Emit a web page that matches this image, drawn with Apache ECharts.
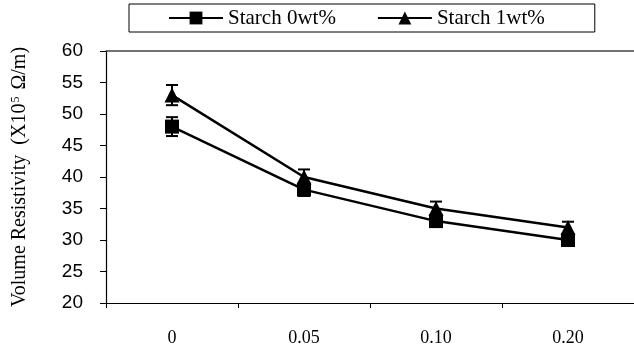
<!DOCTYPE html>
<html>
<head>
<meta charset="utf-8">
<script src="https://cdn.jsdelivr.net/npm/echarts@6/dist/echarts.min.js"></script>
<style>
  html, body { margin: 0; padding: 0; background: #fff; }
  #chart { width: 634px; height: 347px; }
</style>
</head>
<body>
<div id="chart"></div>
<script>
// starch content on x, resistivity (x10^5 ohm/m) on y
const categories = ['0', '0.05', '0.10', '0.20'];
const starch0 = [48, 38, 33, 30];
const starch1 = [53, 40, 35, 32];
// error bar half-heights
const err0 = [1.5, 1, 0.8, 0.6];
const err1 = [1.6, 1.2, 1.1, 0.9];
const yMin = 20, yMax = 60, yStep = 5;

const serif = 'Liberation Serif';
const sans = 'Liberation Sans';

function errData (vals, errs) {
  return vals.map((v, i) => [i, v, errs[i]]);
}

function renderErr (params, api) {
  const x = api.value(0), v = api.value(1), e = api.value(2);
  const hi = api.coord([x, v + e]);
  const lo = api.coord([x, v - e]);
  const cap = 6;
  const style = { stroke: '#000', lineWidth: 2 };
  return {
    type: 'group',
    children: [
      { type: 'line', shape: { x1: hi[0], y1: hi[1], x2: lo[0], y2: lo[1] }, style: style },
      { type: 'line', shape: { x1: hi[0] - cap, y1: hi[1], x2: hi[0] + cap, y2: hi[1] }, style: style },
      { type: 'line', shape: { x1: lo[0] - cap, y1: lo[1], x2: lo[0] + cap, y2: lo[1] }, style: style }
    ]
  };
}

let myChart = echarts.init(document.getElementById('chart'));
let option = {
  backgroundColor: '#fff',
  animation: false,
  legend: {
    data: ['Starch 0wt%', 'Starch 1wt%'],
    left: 129,
    top: 4,
    itemWidth: 54,
    itemHeight: 16,
    itemGap: 41,
    padding: [3, 50, 3, 39],
    borderColor: '#000',
    borderWidth: 1,
    borderRadius: 0,
    textStyle: { fontFamily: serif, fontSize: 21, color: '#000', lineHeight: 22 }
  },
  grid: { left: 106, top: 51, width: 532, height: 252 },
  xAxis: [
    {
      type: 'category',
      data: categories,
      boundaryGap: true,
      axisLine: { lineStyle: { color: '#000', width: 1.2 } },
      axisTick: { show: true, length: 5, inside: false, alignWithLabel: false, lineStyle: { color: '#000' } },
      axisLabel: { fontFamily: serif, fontSize: 18, color: '#000', margin: 26, interval: 0 },
      splitLine: { show: false }
    },
    {
      type: 'category',
      data: categories,
      position: 'top',
      axisLine: { lineStyle: { color: '#444', width: 1.5 } },
      axisTick: { show: false },
      axisLabel: { show: false },
      splitLine: { show: false }
    }
  ],
  yAxis: {
    type: 'value',
    min: yMin,
    max: yMax,
    interval: yStep,
    name: 'Volume Resistivity  (X10{sup|5} Ω/m)',
    nameLocation: 'middle',
    nameGap: 76,
    nameTextStyle: {
      fontFamily: serif,
      fontSize: 20,
      color: '#000',
      rich: {
        sup: { fontFamily: serif, fontSize: 12, color: '#000', verticalAlign: 'top', padding: [0, 2, 8, 1] }
      }
    },
    axisLine: { show: true, lineStyle: { color: '#000', width: 1.2 } },
    axisTick: { show: true, length: 6, lineStyle: { color: '#000' } },
    axisLabel: { fontFamily: sans, fontSize: 19, color: '#000', margin: 23 },
    splitLine: { show: false }
  },
  series: [
    {
      name: 'Starch 0wt%',
      type: 'line',
      data: starch0,
      symbol: 'rect',
      symbolSize: 14,
      lineStyle: { color: '#000', width: 2.5 },
      itemStyle: { color: '#000' },
      z: 3
    },
    {
      name: 'Starch 1wt%',
      type: 'line',
      data: starch1,
      symbol: 'triangle',
      symbolSize: 15,
      lineStyle: { color: '#000', width: 2.5 },
      itemStyle: { color: '#000' },
      z: 3
    },
    {
      name: 'err0',
      type: 'custom',
      renderItem: renderErr,
      data: errData(starch0, err0),
      encode: { x: 0, y: 1 },
      z: 2
    },
    {
      name: 'err1',
      type: 'custom',
      renderItem: renderErr,
      data: errData(starch1, err1),
      encode: { x: 0, y: 1 },
      z: 2
    }
  ]
};
myChart.setOption(option, true);
</script>
</body>
</html>
